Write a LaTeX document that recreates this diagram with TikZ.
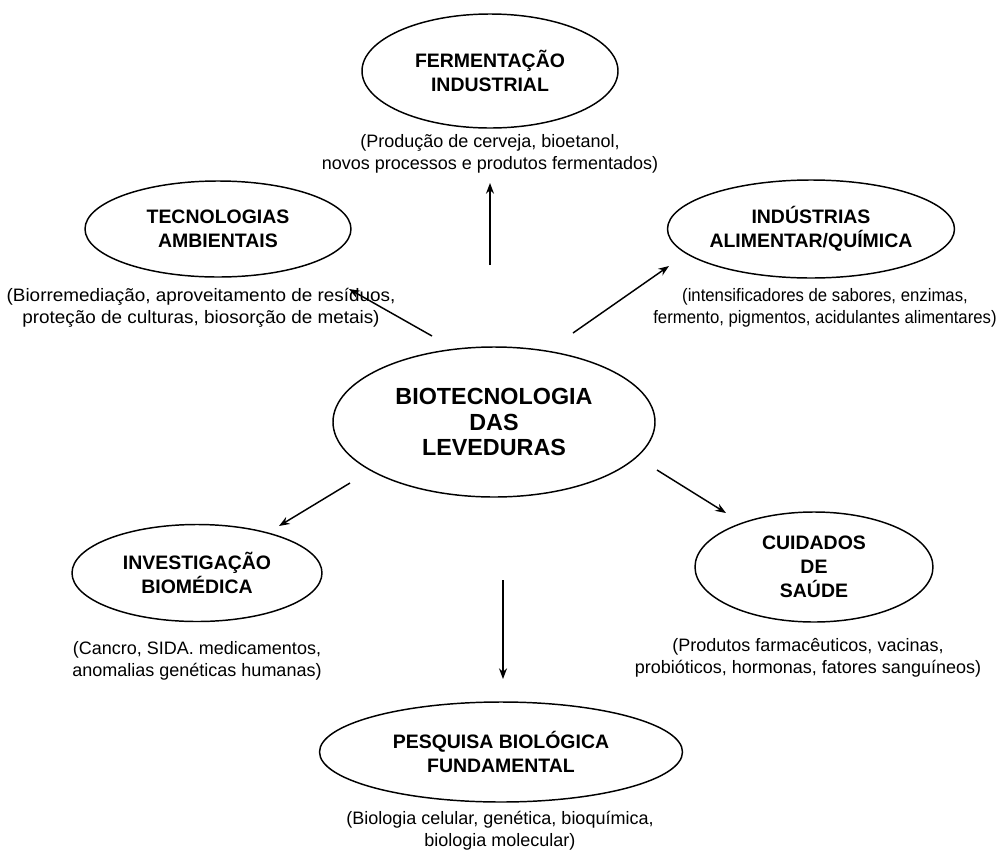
\documentclass[tikz,border=0pt]{standalone}
\usepackage{fontspec}
\setmainfont{Liberation Sans}
\usetikzlibrary{shapes.geometric,arrows.meta}
\begin{document}
\begin{tikzpicture}[x=0.75pt,y=-0.75pt,
  area/.style={draw, ellipse, line width=1.1pt, inner sep=0pt, align=center,
    font=\bfseries\fontsize{14.6}{18}\selectfont},
  note/.style={align=center, inner sep=0pt, font=\fontsize{13.5}{16.5}\selectfont},
  link/.style={line width=1.1pt, -{Stealth[length=8pt,width=6pt]}}]
\useasboundingbox (0,0) rectangle (1008,854);

% central topic
\node[area, minimum width=241.5pt, minimum height=112.5pt,
  font=\bfseries\fontsize{17.5}{19}\selectfont] (bio) at (494,422)
  {BIOTECNOLOGIA\\DAS\\LEVEDURAS};

% application areas
\node[area, minimum width=192pt, minimum height=85.5pt] (ferm) at (490,71)
  {FERMENTAÇÃO\\INDUSTRIAL};
\node[area, minimum width=199.5pt, minimum height=72pt] (tec) at (218,229)
  {TECNOLOGIAS\\AMBIENTAIS};
\node[area, minimum width=211.5pt, minimum height=73.5pt] (ind) at (811,229)
  {INDÚSTRIAS\\ALIMENTAR/QUÍMICA};
\node[area, minimum width=187.5pt, minimum height=72.75pt] (inv) at (197,573)
  {INVESTIGAÇÃO\\BIOMÉDICA};
\node[area, minimum width=178.5pt, minimum height=82.5pt] (cui) at (814,567)
  {CUIDADOS\\DE\\SAÚDE};
\node[area, minimum width=272.25pt, minimum height=75pt] (pes) at (501,752)
  {PESQUISA BIOLÓGICA\\FUNDAMENTAL};

% examples under each area
\node[note] (fermN) at (490,154)
  {(Produção de cerveja, bioetanol,\\novos processos e produtos fermentados)};
\node[note, font=\fontsize{13.5}{16.5}\selectfont\addfontfeatures{FakeStretch=1.05}]
  (tecN) at (201,308)
  {(Biorremediação, aproveitamento de resíduos,\\proteção de culturas, biosorção de metais)};
\node[note, font=\fontsize{13.5}{16.5}\selectfont\addfontfeatures{FakeStretch=0.93}]
  (indN) at (825,308)
  {(intensificadores de sabores, enzimas,\\fermento, pigmentos, acidulantes alimentares)};
\node[note] (invN) at (197,661)
  {(Cancro, SIDA. medicamentos,\\anomalias genéticas humanas)};
\node[note] (cuiN) at (808,658)
  {(Produtos farmacêuticos, vacinas,\\probióticos, hormonas, fatores sanguíneos)};
\node[note] (pesN) at (500,831)
  {(Biologia celular, genética, bioquímica,\\biologia molecular)};

% arrow end points
\coordinate (s1) at (490,265); \coordinate (e1) at (490,183);
\coordinate (s2) at (432,336); \coordinate (e2) at (349,289);
\coordinate (s3) at (573,333); \coordinate (e3) at (669,266);
\coordinate (s4) at (350,483); \coordinate (e4) at (279,526);
\coordinate (s5) at (503,580); \coordinate (e5) at (503,679);
\coordinate (s6) at (657,470); \coordinate (e6) at (726,513);

\draw[link] (s1) -- (e1);
\draw[link] (s2) -- (e2);
\draw[link] (s3) -- (e3);
\draw[link] (s4) -- (e4);
\draw[link] (s5) -- (e5);
\draw[link] (s6) -- (e6);
\end{tikzpicture}
\end{document}
